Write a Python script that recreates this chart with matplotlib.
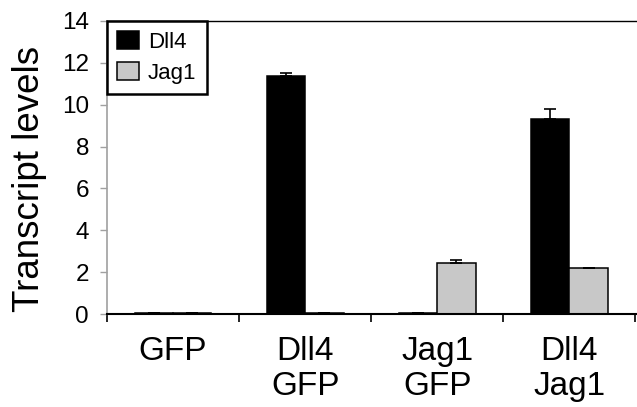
import numpy as np
import matplotlib
matplotlib.use("Agg")
import matplotlib.pyplot as plt
from matplotlib.ticker import FixedLocator

plt.rcParams['font.family'] = ['Liberation Sans', 'DejaVu Sans']

# data
groups = ['GFP', 'Dll4\nGFP', 'Jag1\nGFP', 'Dll4\nJag1']
dll4 = [0.03, 11.36, 0.03, 9.31]
dll4_err = [0.0, 0.13, 0.0, 0.48]
jag1 = [0.03, 0.03, 2.42, 2.18]
jag1_err = [0.0, 0.0, 0.16, 0.02]

fig = plt.figure(figsize=(6.37, 4.07), dpi=100)
ax = fig.add_axes([0.168, 0.2285, 0.84, 0.72])

x = np.arange(len(groups))
w = 0.29
ekw = dict(ecolor='black', elinewidth=1.2, capsize=4, capthick=1.2)
ax.bar(x - w / 2, dll4, w, color='black', edgecolor='black', linewidth=1.1,
       yerr=[np.zeros(4), dll4_err], error_kw=ekw, label='Dll4')
ax.bar(x + w / 2, jag1, w, color='#c8c8c8', edgecolor='black', linewidth=1.1,
       yerr=[np.zeros(4), jag1_err], error_kw=ekw, label='Jag1')

ax.set_xlim(-0.5, 3.55)
ax.set_ylim(0, 14)
ax.set_yticks(range(0, 15, 2))
ax.set_xticks(x)
ax.set_xticklabels(groups, fontsize=24, linespacing=1.15)
ax.xaxis.set_minor_locator(FixedLocator([-0.5, 0.5, 1.5, 2.5, 3.5]))
ax.tick_params(axis='x', which='major', length=0, pad=16)
ax.tick_params(axis='x', which='minor', length=6, width=1.2, color='black', direction='out')
ax.tick_params(axis='y', labelsize=17.5, length=5, width=1, color='#a0a0a0', direction='out', pad=8)

ax.spines['right'].set_visible(False)
ax.spines['left'].set_color('#a0a0a0')
ax.spines['left'].set_linewidth(1.2)
ax.spines['bottom'].set_linewidth(1.5)
ax.spines['top'].set_linewidth(1.0)

ax.set_ylabel('Transcript levels', fontsize=26.5)
ax.yaxis.set_label_coords(-0.113, 0.46)

leg = ax.legend(loc='upper left', bbox_to_anchor=(0, 1), borderaxespad=0,
                fontsize=16, handlelength=1.0, handleheight=0.9, handletextpad=0.4,
                fancybox=False, framealpha=1, edgecolor='black', borderpad=0.45,
                labelspacing=0.4)
leg.get_frame().set_linewidth(1.8)

fig.savefig('out.png', dpi=100)
